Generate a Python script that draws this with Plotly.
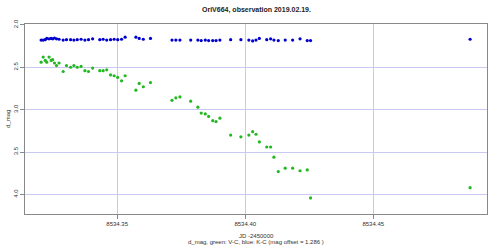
import plotly.graph_objects as go

jd = [8534.3203, 8534.3211, 8534.3219, 8534.3225, 8534.3234, 8534.3242, 8534.3248, 8534.3255, 8534.3263, 8534.3273,
      8534.3289, 8534.3302, 8534.3318, 8534.3331, 8534.3344, 8534.3359, 8534.3374, 8534.3388, 8534.3404, 8534.3432,
      8534.3445, 8534.3459, 8534.3474, 8534.3488, 8534.3502, 8534.3517, 8534.3531, 8534.3573, 8534.3586, 8534.3602,
      8534.3630, 8534.3714, 8534.3729, 8534.3745, 8534.3787, 8534.3815, 8534.3828, 8534.3844, 8534.3857, 8534.3873,
      8534.3886, 8534.3901, 8534.3943, 8534.3983, 8534.4014, 8534.4029, 8534.4042, 8534.4055, 8534.4084, 8534.4099,
      8534.4112, 8534.4129, 8534.4156, 8534.4185, 8534.4214, 8534.4242, 8534.4255, 8534.4878]

v_c = [2.44, 2.38, 2.42, 2.44, 2.38, 2.42, 2.41, 2.45, 2.48, 2.45,
       2.55, 2.48, 2.50, 2.48, 2.50, 2.49, 2.54, 2.55, 2.51, 2.54,
       2.54, 2.53, 2.59, 2.60, 2.62, 2.66, 2.60, 2.77, 2.69, 2.73,
       2.68, 2.89, 2.86, 2.85, 2.90, 2.97, 3.04, 3.05, 3.08, 3.13,
       3.14, 3.10, 3.30, 3.32, 3.30, 3.26, 3.29, 3.38, 3.44, 3.44,
       3.56, 3.73, 3.69, 3.69, 3.72, 3.71, 4.04, 3.92]

k_c = [2.18, 2.18, 2.175, 2.16, 2.165, 2.16, 2.165, 2.155, 2.165, 2.17,
       2.18, 2.175, 2.175, 2.18, 2.175, 2.17, 2.18, 2.175, 2.165, 2.175,
       2.17, 2.18, 2.175, 2.17, 2.175, 2.17, 2.145, 2.145, 2.16, 2.17,
       2.16, 2.18, 2.18, 2.18, 2.18, 2.18, 2.185, 2.18, 2.185, 2.185,
       2.185, 2.18, 2.175, 2.175, 2.18, 2.19, 2.18, 2.16, 2.175, 2.165,
       2.18, 2.185, 2.18, 2.18, 2.165, 2.185, 2.185, 2.17]

x_ticks = [8534.35, 8534.40, 8534.45]
x_labels = ["8534.35", "8534.40", "8534.45"]
y_ticks = [2.0, 2.5, 3.0, 3.5, 4.0]
y_labels = ["2.0", "2.5", "3.0", "3.5", "4.0"]

FONT = "Liberation Sans, Arial, sans-serif"

fig = go.Figure()
fig.add_trace(go.Scatter(x=jd, y=v_c, mode="markers",
                         marker=dict(color="#22b822", size=3.2, line=dict(width=0))))
fig.add_trace(go.Scatter(x=jd, y=k_c, mode="markers",
                         marker=dict(color="#0000cc", size=3.2, line=dict(width=0))))

axis_common = dict(showgrid=True, gridcolor="#c8c8f0", gridwidth=1, zeroline=False,
                   showline=True, linecolor="#888888", linewidth=1, mirror=True,
                   ticks="outside", ticklen=4, tickcolor="#888888", automargin=False,
                   tickfont=dict(family=FONT, size=6, color="#333333"))

fig.update_xaxes(range=[8534.314, 8534.4944], tickvals=x_ticks, ticktext=x_labels, **axis_common)
fig.update_yaxes(range=[4.23, 1.99], tickvals=y_ticks, ticktext=y_labels, tickangle=-90, **axis_common)

fig.update_layout(
    width=500, height=245,
    margin=dict(l=25, r=13, t=24, b=31),
    paper_bgcolor="white", plot_bgcolor="white",
    showlegend=False,
    annotations=[
        dict(text="<b>OriV664, observation 2019.02.19.</b>", x=0.5, y=1, xref="paper", yref="paper",
             xanchor="center", yanchor="bottom", yshift=8, showarrow=False,
             font=dict(family=FONT, size=7, color="#222222")),
        dict(text="d_mag", x=0, y=0.5, xref="paper", yref="paper", textangle=-90,
             xanchor="center", yanchor="middle", xshift=-17, showarrow=False,
             font=dict(family=FONT, size=6, color="#333333")),
        dict(text="JD -2450000", x=0.5, y=0, xref="paper", yref="paper",
             xanchor="center", yanchor="top", yshift=-17, showarrow=False,
             font=dict(family=FONT, size=6, color="#333333")),
        dict(text="d_mag, green: V-C, blue: K-C (mag offset = 1.286 )", x=0.5, y=0, xref="paper", yref="paper",
             xanchor="center", yanchor="top", yshift=-23, showarrow=False,
             font=dict(family=FONT, size=6, color="#333333")),
    ],
)

fig.write_html("out.html")
